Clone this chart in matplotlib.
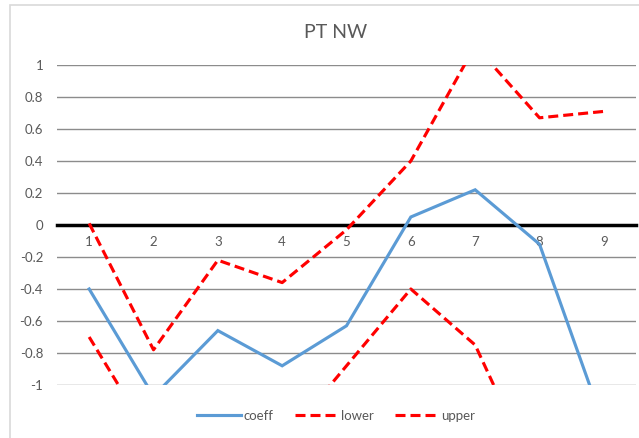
import matplotlib
matplotlib.use("Agg")
import matplotlib.pyplot as plt
from matplotlib.patches import Rectangle
from matplotlib.ticker import FixedLocator, FuncFormatter

plt.rcParams['font.family'] = ['Lato', 'DejaVu Sans']
plt.rcParams['axes.unicode_minus'] = False

title = "PT NW"
categories = [1, 2, 3, 4, 5, 6, 7, 8, 9]
coeff = [-0.40, -1.07, -0.66, -0.88, -0.63, 0.05, 0.22, -0.12, -1.25]
lower = [-0.70, -1.36, -1.50, -1.36, -0.88, -0.40, -0.75, -1.62, -1.70]
upper = [0.01, -0.78, -0.22, -0.36, -0.03, 0.40, 1.12, 0.67, 0.71]
y_ticks = [-1, -0.8, -0.6, -0.4, -0.2, 0, 0.2, 0.4, 0.6, 0.8, 1]

text_color = '#595959'
grid_color = '#8c8c8c'
blue = '#5B9BD5'
red = '#FF0000'

fig = plt.figure(figsize=(6.39, 4.38), dpi=100)
fig.patch.set_facecolor('white')

# chart-area border
fig.add_artist(Rectangle((10 / 639, -0.1), 1.2, 1 - 5 / 438 + 0.1,
                         transform=fig.transFigure, fill=False,
                         edgecolor='#d9d9d9', linewidth=1.2))

ax = fig.add_axes([57 / 639, 1 - 385 / 438, (636 - 57) / 639, (385 - 65) / 438])
ax.set_facecolor('none')

x = list(range(1, len(categories) + 1))
ax.plot(x, coeff, color=blue, lw=2.25, label='coeff', solid_joinstyle='miter')
ax.plot(x, lower, color=red, lw=2.25, ls=(0, (3.2, 1.6)), label='lower')
ax.plot(x, upper, color=red, lw=2.25, ls=(0, (3.2, 1.6)), label='upper')

ax.set_xlim(0.5, len(categories) + 0.5)
ax.set_ylim(-1, 1)

ax.yaxis.set_major_locator(FixedLocator(y_ticks))
ax.yaxis.set_major_formatter(FuncFormatter(lambda v, p: f"{v:g}"))
ax.tick_params(axis='y', length=0, pad=10, labelsize=9.5, labelcolor=text_color)
ax.grid(axis='y', color=grid_color, lw=1.0)
ax.set_axisbelow(True)

# category axis crosses at zero
ax.spines['bottom'].set_position(('data', 0))
ax.spines['bottom'].set_color('black')
ax.spines['bottom'].set_linewidth(2.5)
ax.spines['bottom'].set_zorder(1.5)
for s in ('top', 'right', 'left'):
    ax.spines[s].set_visible(False)
ax.set_xticks(x)
ax.set_xticklabels([str(c) for c in categories])
ax.tick_params(axis='x', length=0, pad=8, labelsize=9.5, labelcolor=text_color)

center_x = 336 / 639
fig.text(center_x, 1 - 33 / 438, title, ha='center', va='center',
         fontsize=14, color=text_color)

leg = fig.legend(loc='center', bbox_to_anchor=(center_x, 1 - 416 / 438), ncol=3,
                 frameon=False, fontsize=9.5, handlelength=3.3,
                 handletextpad=0.2, columnspacing=1.6)
for t in leg.get_texts():
    t.set_color(text_color)

fig.savefig('out.png', dpi=100)
